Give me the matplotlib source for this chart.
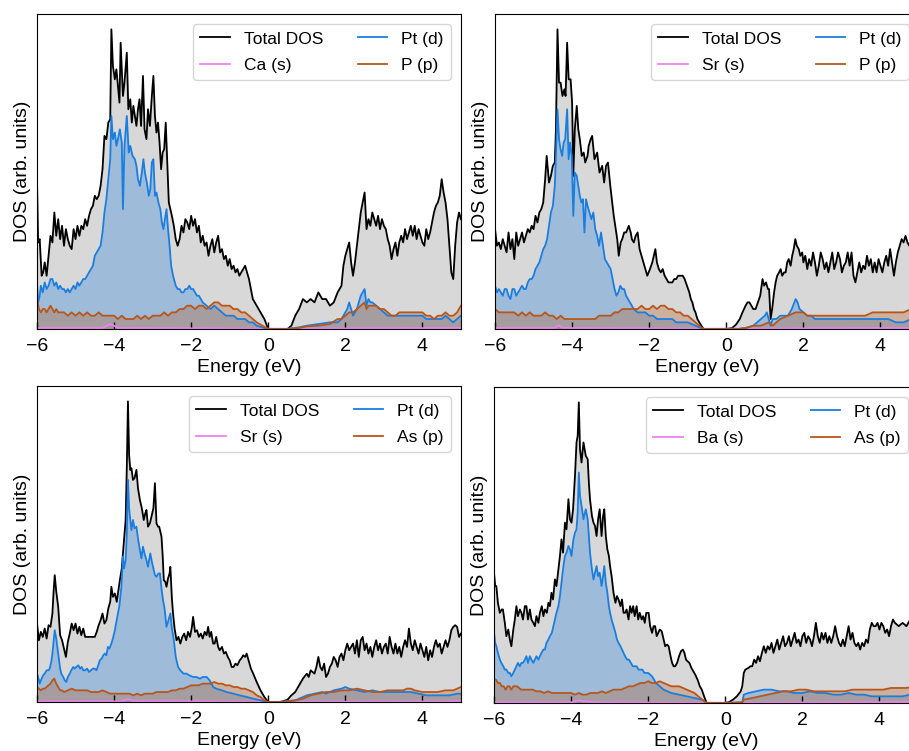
import matplotlib as mpl
mpl.use('Agg')

import matplotlib.pyplot as plt
import numpy as np

plt.rcParams['font.family'] = ['Liberation Sans', 'DejaVu Sans']

# (energy in eV, DOS in arb. units)

# --- panel 1: Ca, Pt, P ---
TOT_1 = [(-6.0,45),(-5.97,26),(-5.93,27),(-5.88,16),(-5.84,17),(-5.8,20),(-5.75,16),(-5.7,22),(-5.65,28),(-5.6,26),(-5.55,35),(-5.5,28),(-5.45,33),(-5.4,27),(-5.35,31),(-5.3,25),(-5.25,30),(-5.2,27),(-5.15,25),(-5.1,24),(-5.05,30),(-5.0,27),(-4.95,31),(-4.9,28),(-4.85,31),(-4.8,30),(-4.75,33),(-4.7,31),(-4.65,34),(-4.6,36),(-4.55,37),(-4.5,40),(-4.45,39),(-4.4,40),(-4.35,43),(-4.3,48),(-4.25,58),(-4.2,57),(-4.15,62),(-4.1,63),(-4.07,90),(-4.03,79),(-3.98,75),(-3.94,78),(-3.9,73),(-3.86,68),(-3.83,86),(-3.77,70),(-3.73,74),(-3.67,83),(-3.63,66),(-3.58,69),(-3.54,62),(-3.5,67),(-3.46,64),(-3.42,61),(-3.38,66),(-3.34,69),(-3.3,61),(-3.25,76),(-3.21,60),(-3.16,57),(-3.12,66),(-3.07,61),(-3.02,70),(-2.98,76),(-2.94,64),(-2.9,59),(-2.86,62),(-2.82,56),(-2.78,48),(-2.74,53),(-2.7,54),(-2.66,62),(-2.62,50),(-2.58,38),(-2.54,36),(-2.5,34),(-2.45,31),(-2.4,27),(-2.35,25),(-2.3,27),(-2.25,31),(-2.2,29),(-2.15,33),(-2.1,32),(-2.05,30),(-2.0,34),(-1.95,31),(-1.9,33),(-1.85,29),(-1.8,31),(-1.75,26),(-1.7,28),(-1.65,25),(-1.6,26),(-1.55,22),(-1.5,25),(-1.45,27),(-1.4,23),(-1.35,26),(-1.3,28),(-1.25,23),(-1.2,24),(-1.15,21),(-1.1,22),(-1.05,19),(-1.0,21),(-0.95,18),(-0.9,19),(-0.85,17),(-0.8,18),(-0.75,16),(-0.7,17),(-0.65,18),(-0.6,19),(-0.55,17),(-0.5,15),(-0.45,12),(-0.4,9),(-0.3,7),(-0.2,5),(-0.1,3),(0.0,0),(0.5,0),(0.6,1),(0.7,4),(0.8,6),(0.9,9),(1.0,8),(1.1,9),(1.2,8),(1.3,11),(1.4,9),(1.5,9),(1.6,7),(1.7,8),(1.8,11),(1.9,13),(1.95,19),(2.0,22),(2.05,24),(2.1,26),(2.15,20),(2.2,16),(2.25,20),(2.3,25),(2.35,30),(2.4,35),(2.45,38),(2.5,41),(2.55,30),(2.6,33),(2.65,31),(2.7,35),(2.75,33),(2.8,31),(2.85,34),(2.9,30),(2.95,33),(3.0,31),(3.05,30),(3.1,27),(3.15,25),(3.2,21),(3.25,24),(3.3,26),(3.35,22),(3.4,26),(3.45,28),(3.5,26),(3.55,30),(3.6,27),(3.65,29),(3.7,31),(3.75,28),(3.8,31),(3.85,27),(3.9,30),(3.95,28),(4.0,26),(4.05,25),(4.1,30),(4.15,27),(4.2,29),(4.25,32),(4.3,35),(4.35,37),(4.4,38),(4.45,40),(4.5,45),(4.55,41),(4.6,38),(4.65,33),(4.7,25),(4.75,17),(4.8,15),(4.85,25),(4.9,32),(4.95,35),(5.0,33)]
PT_1 = [(-6.0,14),(-5.97,8),(-5.93,10),(-5.9,13),(-5.85,11),(-5.8,14),(-5.75,12),(-5.7,13),(-5.65,15),(-5.6,15),(-5.55,13),(-5.5,14),(-5.45,12),(-5.4,13),(-5.35,12),(-5.3,12),(-5.25,11),(-5.2,12),(-5.15,11),(-5.1,12),(-5.05,13),(-5.0,12),(-4.95,14),(-4.9,13),(-4.85,14),(-4.8,15),(-4.75,15),(-4.7,16),(-4.65,17),(-4.6,18),(-4.55,19),(-4.5,22),(-4.45,23),(-4.4,24),(-4.35,25),(-4.3,29),(-4.25,35),(-4.2,39),(-4.15,45),(-4.1,51),(-4.07,64),(-4.03,57),(-3.98,59),(-3.94,55),(-3.9,57),(-3.85,60),(-3.8,56),(-3.77,36),(-3.73,55),(-3.67,64),(-3.62,53),(-3.58,55),(-3.52,52),(-3.46,51),(-3.42,49),(-3.38,45),(-3.33,43),(-3.28,47),(-3.24,51),(-3.2,47),(-3.15,44),(-3.1,40),(-3.06,42),(-3.02,50),(-2.98,51),(-2.94,40),(-2.9,41),(-2.85,38),(-2.8,36),(-2.76,32),(-2.72,30),(-2.68,33),(-2.64,36),(-2.6,30),(-2.56,25),(-2.52,19),(-2.47,16),(-2.4,13),(-2.35,12),(-2.3,12),(-2.25,11),(-2.2,11),(-2.15,12),(-2.1,12),(-2.05,13),(-2.0,12),(-1.95,12),(-1.9,11),(-1.85,10),(-1.8,10),(-1.75,9),(-1.7,8),(-1.6,7),(-1.5,6),(-1.4,7),(-1.3,6),(-1.2,5),(-1.1,4),(-1.0,4),(-0.9,4),(-0.8,3),(-0.7,3),(-0.6,3),(-0.5,2),(-0.4,2),(-0.3,1),(-0.15,0.5),(0.0,0),(0.5,0),(0.8,0.5),(1.0,1),(1.3,1.5),(1.6,2),(1.8,2),(1.9,3),(2.0,5),(2.05,6),(2.1,8),(2.15,6),(2.2,4),(2.3,6),(2.4,10),(2.45,11),(2.5,12),(2.55,7),(2.6,9),(2.65,8),(2.7,8),(2.8,7),(2.9,6),(3.0,5),(3.1,4),(3.2,4),(3.35,4),(3.5,4),(3.65,4),(3.8,4),(3.9,4),(4.0,4),(4.1,3),(4.2,3),(4.3,3),(4.4,3),(4.5,3),(4.6,4),(4.7,3),(4.8,2),(4.9,3),(5.0,4)]
P_1 = [(-6.0,9),(-5.95,6),(-5.9,5),(-5.85,6),(-5.8,6),(-5.75,5),(-5.7,6),(-5.65,7),(-5.6,6),(-5.55,5),(-5.5,6),(-5.45,5),(-5.4,5),(-5.3,5),(-5.2,4),(-5.1,5),(-5.0,4),(-4.9,5),(-4.8,4),(-4.7,5),(-4.6,4),(-4.5,4),(-4.4,5),(-4.3,4),(-4.2,4),(-4.1,4),(-4.0,4),(-3.9,3),(-3.8,4),(-3.7,3),(-3.6,3),(-3.5,3),(-3.4,4),(-3.3,3),(-3.2,4),(-3.1,3),(-3.0,4),(-2.9,4),(-2.8,4),(-2.7,5),(-2.6,4),(-2.5,5),(-2.4,5),(-2.3,6),(-2.2,6),(-2.1,7),(-2.0,7),(-1.9,6),(-1.8,7),(-1.7,7),(-1.6,6),(-1.5,7),(-1.4,8),(-1.3,8),(-1.2,7),(-1.1,7),(-1.0,7),(-0.9,6),(-0.8,6),(-0.7,5),(-0.6,5),(-0.5,4),(-0.4,3),(-0.3,2),(-0.15,1),(0.0,0),(0.5,0),(0.8,0.3),(1.0,0.8),(1.3,1),(1.6,1.5),(1.8,3),(1.9,3),(2.0,4),(2.1,5),(2.2,5),(2.3,6),(2.4,7),(2.5,8),(2.55,6),(2.6,7),(2.7,7),(2.8,7),(2.9,6),(3.0,6),(3.1,5),(3.2,4),(3.3,4),(3.4,5),(3.5,5),(3.6,5),(3.7,5),(3.8,5),(3.9,5),(4.0,5),(4.1,4),(4.2,4),(4.3,3),(4.4,4),(4.5,4),(4.6,5),(4.7,4),(4.8,4),(4.9,5),(5.0,7)]
S_1 = [(-6.0,0.3),(-4.3,0.3),(-4.1,1.5),(-4.0,1.0),(-3.9,0.3),(0.0,0.1),(0.5,0.1),(5.0,0.3)]

# --- panel 2: Sr, Pt, P ---
TOT_2 = [(-6.0,30),(-5.95,25),(-5.9,26),(-5.85,24),(-5.8,27),(-5.75,25),(-5.7,23),(-5.65,29),(-5.6,24),(-5.55,27),(-5.5,21),(-5.45,29),(-5.4,25),(-5.35,27),(-5.3,29),(-5.25,26),(-5.2,28),(-5.15,30),(-5.1,29),(-5.05,31),(-5.0,30),(-4.95,34),(-4.9,32),(-4.85,35),(-4.8,36),(-4.75,38),(-4.7,45),(-4.66,52),(-4.6,44),(-4.55,46),(-4.5,49),(-4.45,50),(-4.42,60),(-4.38,90),(-4.34,74),(-4.3,74),(-4.25,70),(-4.2,72),(-4.17,70),(-4.13,86),(-4.09,75),(-4.04,75),(-4.0,68),(-3.97,46),(-3.93,60),(-3.88,67),(-3.84,60),(-3.8,57),(-3.75,52),(-3.7,53),(-3.66,50),(-3.6,52),(-3.57,55),(-3.52,57),(-3.48,58),(-3.42,51),(-3.35,53),(-3.29,47),(-3.22,49),(-3.17,44),(-3.12,49),(-3.07,50),(-3.01,43),(-2.96,38),(-2.92,34),(-2.87,30),(-2.83,27),(-2.79,22),(-2.74,26),(-2.7,27),(-2.65,29),(-2.6,29),(-2.53,31),(-2.48,29),(-2.45,27),(-2.4,26),(-2.35,28),(-2.3,29),(-2.25,24),(-2.2,22),(-2.15,20),(-2.1,18),(-2.05,16),(-1.98,18),(-1.92,20),(-1.88,22),(-1.84,24),(-1.8,20),(-1.75,18),(-1.7,17),(-1.65,18),(-1.6,16),(-1.55,15),(-1.5,14),(-1.45,14),(-1.4,14),(-1.35,15),(-1.3,15),(-1.25,16),(-1.2,16),(-1.13,16),(-1.08,15),(-1.02,13),(-0.96,11),(-0.92,9),(-0.88,8),(-0.84,6),(-0.8,5),(-0.75,3),(-0.7,2),(-0.62,0.5),(-0.58,0),(0.0,0),(0.15,0.3),(0.25,1.3),(0.35,3),(0.42,5),(0.5,7),(0.55,8),(0.6,8),(0.65,7),(0.7,6),(0.76,6),(0.82,8),(0.88,10),(0.94,15),(0.98,13),(1.03,14),(1.08,12),(1.11,12),(1.15,3),(1.19,6),(1.24,11),(1.28,14),(1.32,16),(1.37,17),(1.41,18),(1.45,16),(1.5,17),(1.54,17),(1.58,20),(1.62,21),(1.67,19),(1.71,22),(1.75,24),(1.79,27),(1.83,25),(1.88,24),(1.92,22),(1.97,23),(2.0,20),(2.05,22),(2.1,18),(2.15,21),(2.2,19),(2.25,23),(2.3,20),(2.35,16),(2.4,19),(2.45,23),(2.5,21),(2.55,18),(2.6,20),(2.65,17),(2.7,20),(2.75,23),(2.8,18),(2.85,20),(2.9,23),(2.95,21),(3.0,17),(3.05,19),(3.1,20),(3.15,23),(3.2,19),(3.25,23),(3.3,16),(3.35,14),(3.4,17),(3.45,20),(3.5,17),(3.55,19),(3.6,18),(3.65,22),(3.7,19),(3.75,21),(3.8,17),(3.85,20),(3.9,17),(3.95,21),(4.0,19),(4.05,17),(4.1,20),(4.15,22),(4.2,19),(4.25,24),(4.3,20),(4.35,16),(4.4,20),(4.45,23),(4.5,25),(4.55,27),(4.6,26),(4.65,28),(4.7,26),(4.75,25),(4.8,27),(4.9,29),(5.0,28)]
PT_2 = [(-6.0,13),(-5.95,11),(-5.9,12),(-5.85,11),(-5.8,10),(-5.75,12),(-5.7,12),(-5.65,10),(-5.6,9),(-5.55,12),(-5.5,12),(-5.45,10),(-5.4,11),(-5.35,12),(-5.3,13),(-5.25,12),(-5.2,12),(-5.15,14),(-5.1,15),(-5.05,15),(-5.0,16),(-4.95,18),(-4.9,19),(-4.85,20),(-4.8,22),(-4.75,24),(-4.7,25),(-4.65,27),(-4.6,31),(-4.55,35),(-4.5,37),(-4.45,43),(-4.42,52),(-4.38,66),(-4.34,57),(-4.3,54),(-4.26,52),(-4.22,56),(-4.18,57),(-4.13,66),(-4.09,51),(-4.05,56),(-4.01,52),(-3.97,34),(-3.93,47),(-3.88,46),(-3.84,43),(-3.8,40),(-3.76,38),(-3.72,39),(-3.68,29),(-3.64,39),(-3.6,37),(-3.55,35),(-3.5,33),(-3.45,35),(-3.4,30),(-3.35,28),(-3.3,25),(-3.25,29),(-3.2,25),(-3.15,21),(-3.1,20),(-3.05,19),(-3.0,18),(-2.95,15),(-2.9,12),(-2.85,10),(-2.8,11),(-2.75,13),(-2.7,12),(-2.65,12),(-2.6,10),(-2.55,9),(-2.5,8),(-2.45,7),(-2.4,6),(-2.3,5),(-2.2,5),(-2.1,5),(-2.0,4),(-1.9,4),(-1.8,3),(-1.7,3),(-1.6,3),(-1.5,3),(-1.4,3),(-1.3,2),(-1.2,2),(-1.0,2),(-0.8,1),(-0.6,0),(0.3,0),(0.5,0.3),(0.7,1),(0.9,3),(1.0,4),(1.05,5),(1.15,1),(1.2,3),(1.3,3),(1.4,4),(1.5,4),(1.6,4),(1.7,6),(1.8,9),(1.85,8),(1.9,6),(2.0,5),(2.1,4),(2.2,4),(2.3,3),(2.4,3),(2.6,3),(2.8,3),(3.0,3),(3.2,3),(3.4,3),(3.6,3),(3.8,3),(4.0,3),(4.2,3),(4.4,2),(4.6,2),(4.8,3),(5.0,3)]
P_2 = [(-6.0,6),(-5.9,5),(-5.8,5),(-5.7,5),(-5.6,5),(-5.5,5),(-5.4,4),(-5.3,5),(-5.2,4),(-5.1,5),(-5.0,4),(-4.9,4),(-4.8,4),(-4.7,5),(-4.6,4),(-4.5,4),(-4.4,3),(-4.3,4),(-4.2,3),(-4.1,3),(-4.0,3),(-3.9,3),(-3.8,3),(-3.7,3),(-3.6,3),(-3.5,3),(-3.4,3),(-3.3,4),(-3.2,4),(-3.1,4),(-3.0,4),(-2.9,5),(-2.8,5),(-2.7,6),(-2.6,6),(-2.5,6),(-2.4,6),(-2.3,6),(-2.2,7),(-2.1,6),(-2.0,6),(-1.9,7),(-1.8,6),(-1.7,7),(-1.6,7),(-1.5,6),(-1.4,6),(-1.3,5),(-1.2,5),(-1.1,4),(-1.0,4),(-0.9,3),(-0.8,2),(-0.7,1),(-0.6,0),(0.3,0),(0.5,0.3),(0.7,1),(0.9,1),(1.1,2),(1.2,1),(1.4,3),(1.6,4),(1.8,5),(1.9,5),(2.0,5),(2.1,4),(2.2,4),(2.4,4),(2.6,4),(2.8,4),(3.0,4),(3.2,4),(3.4,4),(3.6,4),(3.8,5),(4.0,5),(4.2,5),(4.4,5),(4.6,5),(4.8,6),(5.0,6)]
S_2 = [(-6.0,0.3),(-4.45,0.3),(-4.35,1.2),(-4.25,0.3),(-0.6,0.1),(0.3,0.1),(5.0,0.3)]

# --- panel 3: Sr, Pt, As ---
TOT_3 = [(-6.0,23.5),(-5.95,18.5),(-5.9,21),(-5.85,19.5),(-5.8,22),(-5.75,19),(-5.7,23),(-5.65,22.5),(-5.6,26.5),(-5.57,33),(-5.54,38),(-5.5,33),(-5.45,28.5),(-5.4,20),(-5.35,18.5),(-5.3,16),(-5.25,13.5),(-5.2,18),(-5.15,20.5),(-5.1,23.5),(-5.05,21.5),(-5.0,23.5),(-4.95,20.5),(-4.9,22.5),(-4.85,20),(-4.8,22),(-4.75,19.5),(-4.7,19.5),(-4.6,19.5),(-4.5,19.5),(-4.45,21),(-4.4,23),(-4.35,24.5),(-4.3,26.5),(-4.25,23.5),(-4.2,24.5),(-4.15,28),(-4.1,30),(-4.07,34.5),(-4.03,31.5),(-3.98,32.5),(-3.93,30),(-3.88,34),(-3.85,36.5),(-3.8,40),(-3.77,44.5),(-3.73,50),(-3.7,54.5),(-3.67,70),(-3.64,90),(-3.61,74),(-3.58,69.5),(-3.55,70),(-3.51,66.5),(-3.47,67),(-3.42,69.5),(-3.38,64),(-3.33,60.5),(-3.28,58),(-3.23,54.5),(-3.19,56.5),(-3.16,57.5),(-3.12,52.5),(-3.07,53.5),(-3.02,56),(-2.98,58),(-2.94,65.5),(-2.9,53.5),(-2.86,52.5),(-2.83,52.5),(-2.77,49.5),(-2.74,44),(-2.71,36.5),(-2.67,36),(-2.64,34.5),(-2.6,37),(-2.56,38.5),(-2.54,40.5),(-2.5,31),(-2.47,26.5),(-2.43,22),(-2.38,18.5),(-2.33,19.5),(-2.28,17.5),(-2.23,19.5),(-2.18,20.5),(-2.13,18.5),(-2.08,21),(-2.03,19.5),(-1.98,22.5),(-1.95,25.5),(-1.9,21),(-1.85,21.5),(-1.8,19.5),(-1.75,20.5),(-1.7,19),(-1.65,21),(-1.6,20),(-1.56,22.5),(-1.52,19.5),(-1.48,21),(-1.43,17.5),(-1.39,17.5),(-1.35,19.5),(-1.3,16.5),(-1.26,15.5),(-1.2,16.5),(-1.15,14.5),(-1.1,15),(-1.05,13.5),(-1.0,12.5),(-0.95,10.5),(-0.9,10.5),(-0.85,11.5),(-0.8,11),(-0.74,12.5),(-0.7,13),(-0.65,14),(-0.6,13.5),(-0.56,14.5),(-0.5,12),(-0.45,10),(-0.39,8.5),(-0.3,6),(-0.2,3.5),(-0.1,1.5),(0.0,0),(0.3,0),(0.4,0.3),(0.5,0.7),(0.6,2),(0.7,3),(0.8,5),(0.9,7),(1.0,8.5),(1.05,7.5),(1.1,9.5),(1.15,9),(1.2,8.5),(1.25,10.5),(1.3,13.5),(1.35,10.5),(1.4,9.5),(1.45,11.5),(1.5,7.5),(1.55,8.5),(1.6,10.5),(1.65,11.5),(1.7,13.5),(1.75,12.5),(1.8,10.5),(1.85,13.5),(1.9,14.5),(1.95,12.5),(2.0,15.5),(2.05,17.5),(2.1,15.5),(2.15,16.5),(2.2,17.5),(2.25,14.5),(2.3,18.5),(2.35,13.5),(2.4,18.5),(2.45,19.5),(2.5,15.5),(2.55,17.5),(2.6,14.5),(2.65,16.5),(2.7,13.5),(2.75,16.5),(2.8,18.5),(2.85,15.5),(2.9,17.5),(2.95,14.5),(3.0,16.5),(3.05,17.5),(3.1,14.5),(3.15,19.5),(3.2,16.5),(3.25,14.5),(3.3,17.5),(3.35,14.5),(3.4,16.5),(3.45,13.5),(3.5,16.5),(3.55,18.5),(3.6,16.5),(3.65,22),(3.7,17.5),(3.75,15.5),(3.8,18.5),(3.85,16.5),(3.9,14.5),(3.95,17.5),(4.0,15.5),(4.05,13.5),(4.1,16.5),(4.15,12.5),(4.2,15.5),(4.25,13.5),(4.3,16.5),(4.35,18.5),(4.4,16.5),(4.45,17.5),(4.5,14.5),(4.55,16.5),(4.6,18.5),(4.65,16.5),(4.7,18.5),(4.75,21.5),(4.8,22.5),(4.85,23),(4.9,22.5),(4.95,19.5),(5.0,20.5)]
PT_3 = [(-6.0,8.5),(-5.96,7),(-5.93,5.5),(-5.88,7),(-5.84,8),(-5.8,8.5),(-5.75,9.5),(-5.7,9.5),(-5.67,10),(-5.63,12),(-5.6,14.5),(-5.57,18),(-5.54,21.5),(-5.5,19),(-5.45,14.5),(-5.4,10),(-5.37,8.5),(-5.32,7.5),(-5.28,6.5),(-5.24,6),(-5.2,7.5),(-5.15,8.5),(-5.11,9.5),(-5.06,10.5),(-5.02,10),(-4.98,10.5),(-4.93,11),(-4.88,10),(-4.84,10.5),(-4.8,9.5),(-4.75,9.5),(-4.7,10),(-4.65,9),(-4.6,9.5),(-4.55,10),(-4.5,10),(-4.46,9.5),(-4.41,11),(-4.37,12.5),(-4.32,13),(-4.28,14),(-4.24,14.5),(-4.2,14),(-4.16,16.5),(-4.12,16),(-4.07,17.5),(-4.03,19),(-3.98,21.5),(-3.94,24),(-3.9,26.5),(-3.86,29),(-3.81,34.5),(-3.77,43.5),(-3.74,40),(-3.7,42.5),(-3.67,50),(-3.64,66.5),(-3.61,58),(-3.58,54.5),(-3.55,51.5),(-3.51,54.5),(-3.47,52),(-3.42,52.5),(-3.38,49),(-3.33,45.5),(-3.29,43),(-3.25,46.5),(-3.2,44),(-3.16,42.5),(-3.12,40.5),(-3.06,44.5),(-3.02,42),(-2.99,40.5),(-2.94,38),(-2.9,37.5),(-2.85,38.5),(-2.81,38.5),(-2.77,34),(-2.73,30.5),(-2.69,28),(-2.64,22.5),(-2.6,24),(-2.54,26.5),(-2.5,22),(-2.45,18.5),(-2.4,13.5),(-2.34,10.5),(-2.28,9.5),(-2.2,8.5),(-2.12,8.5),(-2.05,8),(-1.95,7.5),(-1.87,7.5),(-1.77,7),(-1.7,7.5),(-1.6,7.5),(-1.52,6.5),(-1.43,4.5),(-1.35,4),(-1.2,3.5),(-1.08,3),(-0.9,2.5),(-0.74,2),(-0.55,1.5),(-0.39,1),(-0.2,0.5),(0.0,0),(0.3,0),(0.5,0.3),(0.7,0.5),(0.9,1.5),(1.0,2),(1.2,2.5),(1.4,3),(1.5,2.5),(1.7,3.5),(1.9,4),(2.0,4.5),(2.1,4),(2.3,3.5),(2.5,3),(2.7,3.5),(2.9,3),(3.1,3),(3.3,3),(3.5,3),(3.7,3),(3.9,2.5),(4.1,2),(4.3,2),(4.5,2),(4.7,2),(4.9,2.5),(5.0,2.5)]
AS_3 = [(-6.0,4.5),(-5.95,4),(-5.9,3.5),(-5.85,4),(-5.8,4),(-5.75,4.5),(-5.7,5),(-5.65,5.5),(-5.6,6.5),(-5.55,7),(-5.5,5.5),(-5.45,4.5),(-5.4,3.5),(-5.35,3.5),(-5.3,3),(-5.2,3.5),(-5.1,4),(-5.0,3.5),(-4.9,3.5),(-4.8,3.5),(-4.7,3.5),(-4.6,3),(-4.5,3),(-4.4,3),(-4.3,3.5),(-4.2,3),(-4.1,2.5),(-4.0,2.5),(-3.9,2.5),(-3.8,2.5),(-3.7,2.5),(-3.6,2.5),(-3.5,2),(-3.4,2.5),(-3.3,2),(-3.2,2.5),(-3.1,2.5),(-3.0,2.5),(-2.9,3),(-2.8,3),(-2.7,3),(-2.6,3),(-2.5,3.5),(-2.4,3.5),(-2.3,4),(-2.2,4),(-2.1,4.5),(-2.0,5),(-1.9,5),(-1.8,5),(-1.7,5.5),(-1.6,5.5),(-1.5,5.5),(-1.4,6),(-1.3,5.5),(-1.2,5.5),(-1.1,5),(-1.0,5),(-0.9,4.5),(-0.8,4.5),(-0.7,4),(-0.6,4),(-0.5,3.5),(-0.4,3),(-0.3,2),(-0.2,1.5),(-0.1,0.5),(0.0,0),(0.3,0),(0.5,0.2),(0.7,0.5),(0.9,1),(1.1,2),(1.3,2.5),(1.5,3),(1.7,3),(1.9,3.5),(2.1,3.5),(2.3,4),(2.5,3.5),(2.7,3),(2.9,3),(3.1,3.5),(3.3,3.5),(3.5,3.5),(3.6,4),(3.7,4),(3.8,3.5),(4.0,3),(4.2,3),(4.4,3),(4.6,3.5),(4.8,3.5),(4.9,4),(5.0,4.5)]
S_3 = [(-6.0,0.2),(-3.8,0.2),(-3.65,1.0),(-3.5,0.3),(0.0,0.05),(5.0,0.2)]

# --- panel 4: Ba, Pt, As ---
TOT_4 = [(-6.0,39),(-5.97,35),(-5.94,35),(-5.9,30),(-5.85,27),(-5.8,28),(-5.77,28),(-5.72,24),(-5.68,20),(-5.63,22),(-5.59,19),(-5.55,17),(-5.5,22),(-5.46,25),(-5.42,29),(-5.38,26),(-5.33,28),(-5.29,27),(-5.25,25),(-5.2,29),(-5.16,29),(-5.12,25),(-5.07,28),(-5.03,25),(-4.98,24),(-4.94,23),(-4.9,26),(-4.85,24),(-4.81,27),(-4.76,29),(-4.72,26),(-4.68,28),(-4.63,27),(-4.59,30),(-4.55,29),(-4.51,33),(-4.47,31),(-4.42,37),(-4.38,35),(-4.33,40),(-4.29,44),(-4.25,49),(-4.21,45),(-4.16,54),(-4.12,52),(-4.07,61),(-4.03,55),(-3.99,54),(-3.95,58),(-3.9,68),(-3.86,78),(-3.83,80),(-3.8,90),(-3.77,76),(-3.73,72),(-3.68,78),(-3.62,74),(-3.57,73),(-3.54,66),(-3.51,61),(-3.46,56),(-3.42,54),(-3.38,53),(-3.34,50),(-3.3,55),(-3.26,58),(-3.21,50),(-3.17,56),(-3.14,58),(-3.1,50),(-3.06,46),(-3.02,44),(-2.99,41),(-2.95,38),(-2.9,33),(-2.85,30),(-2.81,32),(-2.77,31),(-2.72,29),(-2.68,31),(-2.64,27),(-2.6,27),(-2.56,28),(-2.51,25),(-2.47,29),(-2.43,27),(-2.39,29),(-2.35,26),(-2.3,29),(-2.26,25),(-2.22,27),(-2.17,25),(-2.13,26),(-2.09,24),(-2.05,27),(-1.99,27),(-1.95,23),(-1.9,21),(-1.86,23),(-1.82,23),(-1.78,20),(-1.74,21),(-1.7,22),(-1.65,21.5),(-1.6,19),(-1.56,17),(-1.51,17.5),(-1.47,17),(-1.42,14),(-1.38,12),(-1.34,11),(-1.3,11),(-1.25,12),(-1.2,14),(-1.15,15.5),(-1.1,16),(-1.06,15),(-1.02,13),(-0.98,12.5),(-0.93,12),(-0.88,10.5),(-0.83,9.5),(-0.78,8.5),(-0.72,7),(-0.66,5),(-0.61,4),(-0.55,2),(-0.5,0.5),(-0.48,0),(0.0,0),(0.1,0.3),(0.2,1),(0.3,2),(0.4,3.5),(0.44,5),(0.48,9),(0.52,10),(0.6,10.5),(0.65,11),(0.7,11),(0.75,13),(0.8,12),(0.85,14),(0.9,12.5),(0.95,15),(1.0,17),(1.05,15),(1.1,17),(1.15,16),(1.2,18),(1.25,15),(1.3,17),(1.35,19),(1.4,16),(1.45,18),(1.5,20),(1.55,17),(1.6,18),(1.65,20),(1.7,17),(1.75,19),(1.8,21),(1.85,18),(1.9,19),(1.95,17),(2.0,20),(2.05,21),(2.1,18),(2.15,20),(2.2,19),(2.25,17),(2.3,20),(2.35,24),(2.4,20),(2.45,18),(2.5,21),(2.55,19),(2.6,21),(2.65,18),(2.7,20),(2.75,18),(2.8,20),(2.85,23),(2.9,20),(2.95,18),(3.0,17),(3.05,19),(3.1,17),(3.15,20),(3.2,23),(3.25,19),(3.3,21),(3.35,18),(3.4,17),(3.45,18),(3.5,16),(3.55,18),(3.6,17),(3.65,19),(3.7,18),(3.75,22),(3.8,24),(3.85,23),(3.9,23),(3.95,24),(4.0,22),(4.05,24),(4.1,23),(4.15,21),(4.2,22),(4.25,20),(4.3,23),(4.35,25),(4.4,24),(4.5,23),(4.6,24),(4.7,23),(4.8,25),(4.9,23),(5.0,24)]
PT_4 = [(-6.0,21),(-5.97,18),(-5.94,17),(-5.9,15),(-5.85,13),(-5.81,12),(-5.76,11),(-5.72,10),(-5.68,10),(-5.63,9),(-5.59,9),(-5.55,8),(-5.5,9),(-5.46,10),(-5.42,11),(-5.38,12),(-5.33,11),(-5.29,12),(-5.25,12),(-5.2,13),(-5.16,14),(-5.12,12),(-5.07,14),(-5.03,13),(-4.98,12),(-4.94,13),(-4.9,14),(-4.85,13),(-4.81,14),(-4.77,15),(-4.72,16),(-4.68,16),(-4.64,18),(-4.59,19),(-4.55,20),(-4.5,21),(-4.46,23),(-4.42,25),(-4.38,27),(-4.33,29),(-4.29,32),(-4.25,36),(-4.2,41),(-4.16,44),(-4.12,45),(-4.07,47),(-4.03,46),(-3.99,44),(-3.94,49),(-3.9,51),(-3.86,52),(-3.83,57),(-3.8,69),(-3.77,62),(-3.73,59),(-3.68,55),(-3.62,58),(-3.57,55),(-3.54,50),(-3.51,45),(-3.46,40),(-3.42,37),(-3.38,39),(-3.34,41),(-3.3,38),(-3.26,39),(-3.21,35),(-3.17,38),(-3.14,41),(-3.1,36),(-3.06,33),(-3.02,29),(-2.99,27),(-2.95,25),(-2.9,23),(-2.85,21),(-2.81,19),(-2.77,18),(-2.72,17),(-2.68,16),(-2.64,15),(-2.6,14),(-2.55,13),(-2.5,13),(-2.45,12),(-2.4,11),(-2.35,11),(-2.3,11),(-2.25,10),(-2.2,10),(-2.15,10),(-2.1,9),(-2.05,9),(-2.0,9),(-1.9,8),(-1.8,6),(-1.7,5),(-1.6,4),(-1.5,3.5),(-1.4,3),(-1.2,2.5),(-1.0,2),(-0.8,1.5),(-0.6,1),(-0.48,0),(0.0,0),(0.44,0.2),(0.48,2.5),(0.6,3),(0.8,3.5),(1.0,4),(1.2,4),(1.4,3.5),(1.6,3.5),(1.8,3),(2.0,3),(2.2,3.5),(2.4,3),(2.6,3),(2.8,2.5),(3.0,2.5),(3.2,3),(3.4,2.5),(3.6,2.5),(3.8,2),(4.0,2),(4.2,2),(4.4,2),(4.6,2),(4.8,2.5),(5.0,2.5)]
AS_4 = [(-6.0,7),(-5.95,7),(-5.9,6),(-5.85,6),(-5.8,5),(-5.75,5),(-5.7,4),(-5.65,5),(-5.6,5),(-5.55,4),(-5.5,5),(-5.45,5),(-5.4,5),(-5.3,4),(-5.2,4),(-5.1,4),(-5.0,4),(-4.9,3.5),(-4.8,3.5),(-4.7,3),(-4.6,3.5),(-4.5,3),(-4.4,3),(-4.3,3),(-4.2,3),(-4.1,3),(-4.0,3),(-3.9,2.5),(-3.8,3),(-3.7,2.5),(-3.6,2.5),(-3.5,3),(-3.4,3),(-3.3,3),(-3.2,3.5),(-3.1,3),(-3.0,3.5),(-2.9,4),(-2.8,4),(-2.7,4),(-2.6,4.5),(-2.5,5),(-2.4,5),(-2.3,5.5),(-2.2,6),(-2.1,6),(-2.0,6.5),(-1.9,6),(-1.8,6),(-1.7,6.5),(-1.6,6),(-1.5,5.5),(-1.4,5),(-1.3,5),(-1.2,5),(-1.1,4.5),(-1.0,4),(-0.9,3.5),(-0.8,3),(-0.7,2),(-0.6,1),(-0.48,0),(0.0,0),(0.44,0.2),(0.48,1),(0.7,1.5),(0.9,2),(1.1,2.5),(1.3,3),(1.5,3.5),(1.7,3.5),(1.9,4),(2.1,4),(2.3,3.5),(2.5,3.5),(2.7,3.5),(2.9,3.5),(3.1,3.5),(3.3,4),(3.5,4),(3.7,4),(3.9,4),(4.1,4),(4.3,4.5),(4.5,4.5),(4.7,4.5),(4.9,5),(5.0,5)]
S_4 = [(-6.0,0.2),(-4.0,0.2),(-3.8,0.8),(-3.6,0.4),(-3.3,0.2),(-0.48,0.1),(0.44,0.1),(5.0,0.3)]

PANELS = [
    (TOT_1, S_1, PT_1, P_1, 'Ca (s)', 'P (p)'),
    (TOT_2, S_2, PT_2, P_2, 'Sr (s)', 'P (p)'),
    (TOT_3, S_3, PT_3, AS_3, 'Sr (s)', 'As (p)'),
    (TOT_4, S_4, PT_4, AS_4, 'Ba (s)', 'As (p)'),
]

# axes rectangles in figure fractions (right column runs off the page, as in the original)
boxes = [
    [0.0407, 0.5619, 0.4664, 0.4194],
    [0.5446, 0.5619, 0.4664, 0.4194],
    [0.0407, 0.0652, 0.4664, 0.4208],
    [0.5435, 0.0639, 0.4664, 0.4208],
]

c_tot = 'black'
c_s = 'violet'
c_pt = '#1a7ee0'
c_p = '#b8561a'

fig = plt.figure(figsize=(9.09, 7.51), dpi=100)

for box, (tot, s, pt, pp, s_lab, p_lab) in zip(boxes, PANELS):
    ax = fig.add_axes(box)
    for pts, col, lab, fc in [(tot, c_tot, 'Total DOS', 'gray'),
                              (s, c_s, s_lab, c_s),
                              (pt, c_pt, 'Pt (d)', c_pt),
                              (pp, c_p, p_lab, c_p)]:
        e, d = np.array(pts).T
        ax.fill_between(e, d, 0, color=fc, alpha=0.3, lw=0)
        ax.plot(e, d, color=col, lw=1.3, label=lab)
    ax.set_xlim(-6, 5)
    ax.set_ylim(0, 94.6)
    ax.set_xticks([-6, -4, -2, 0, 2, 4])
    ax.set_yticks([])
    ax.tick_params(axis='x', direction='in', length=5, width=1, labelsize=14, pad=6.5)
    ax.set_xlabel('Energy (eV)', fontsize=14, labelpad=3)
    ax.set_ylabel('DOS (arb. units)', fontsize=14, labelpad=4)
    ax.legend(loc='upper right', ncol=2, fontsize=12.5, handlelength=1.7,
              handletextpad=0.8, columnspacing=2.0, borderaxespad=0.6,
              labelspacing=0.65)

plt.savefig('out.png', dpi=100)
